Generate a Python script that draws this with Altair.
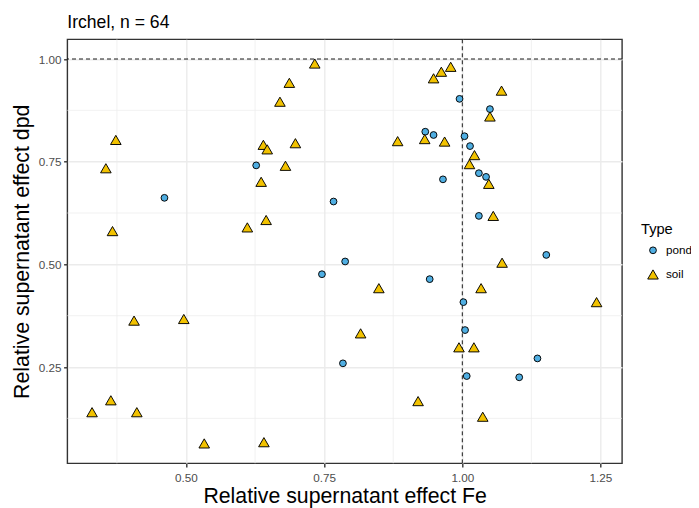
import altair as alt
import pandas as pd

# ---- data ----
pond_fe = [0.461, 0.627, 0.767, 0.933, 0.948, 0.965, 0.995, 1.004, 1.014, 1.050,
           1.030, 1.043, 1.030, 0.788, 0.746, 0.941, 1.002, 1.005, 0.784, 1.008,
           1.152, 1.136, 1.103]
pond_dpd = [0.662, 0.741, 0.653, 0.823, 0.815, 0.707, 0.903, 0.812, 0.788, 0.878,
            0.722, 0.713, 0.618, 0.507, 0.476, 0.464, 0.408, 0.340, 0.259, 0.228,
            0.523, 0.271, 0.225]
soil_fe = [0.373, 0.355, 0.640, 0.647, 0.636, 0.367, 0.611, 0.645, 0.733, 0.687,
           0.670, 0.698, 0.680, 0.883, 0.932, 0.968, 0.948, 0.962, 0.979, 1.071,
           1.050, 1.022, 1.013, 1.048, 1.056, 0.406, 0.496, 0.330, 0.364, 0.411,
           0.533, 0.641, 0.849, 0.816, 0.994, 0.920, 1.072, 1.034, 1.243, 1.021,
           1.037]
soil_dpd = [0.803, 0.734, 0.791, 0.780, 0.701, 0.581, 0.590, 0.608, 0.989, 0.942,
            0.896, 0.795, 0.740, 0.800, 0.805, 0.799, 0.953, 0.969, 0.981, 0.923,
            0.860, 0.766, 0.744, 0.696, 0.618, 0.363, 0.367, 0.140, 0.169, 0.140,
            0.064, 0.067, 0.442, 0.332, 0.298, 0.167, 0.504, 0.442, 0.408, 0.298,
            0.129]
types = ["pond", "soil"]
type_colors = ["#4FAEE2", "#F2C200"]
type_shapes = ["circle", "triangle-up"]
type_sizes = [46, 112]

x_ticks = [0.5, 0.75, 1.0, 1.25]
y_ticks = [0.25, 0.5, 0.75, 1.0]
minor_x = [0.375, 0.625, 0.875, 1.125]
minor_y = [0.125, 0.375, 0.625, 0.875]
ref_x = [1.0]
ref_y = [1.0]

df = pd.DataFrame({
    "Fe": pond_fe + soil_fe,
    "dpd": pond_dpd + soil_dpd,
    "Type": ["pond"] * len(pond_fe) + ["soil"] * len(soil_fe),
})

FONT = "Liberation Sans"
xs = alt.Scale(domain=[0.2852, 1.289], nice=False, zero=False)
ys = alt.Scale(domain=[0.0156, 1.048], nice=False, zero=False)

x_axis = alt.Axis(values=x_ticks, format=".2f", title="Relative supernatant effect Fe",
                  grid=True, gridColor="#EBEBEB", gridWidth=1.4,
                  domain=False, ticks=True, tickColor="#333333", tickWidth=1.4, tickSize=3.7,
                  labelFont=FONT, labelFontSize=11.7, labelColor="#4D4D4D", labelPadding=6,
                  titleFont=FONT, titleFontSize=21.3, titleFontWeight="normal",
                  titleColor="black", titleBaseline="alphabetic", titleY=39.5)
y_axis = alt.Axis(values=y_ticks, format=".2f", title="Relative supernatant effect dpd",
                  grid=True, gridColor="#EBEBEB", gridWidth=1.4,
                  domain=False, ticks=True, tickColor="#333333", tickWidth=1.4, tickSize=3.7,
                  labelFont=FONT, labelFontSize=11.7, labelColor="#4D4D4D", labelPadding=2.5,
                  titleFont=FONT, titleFontSize=21.3, titleFontWeight="normal",
                  titleColor="black", titleBaseline="alphabetic", titleX=-39, titleY=212)

legend = alt.Legend(title="Type", orient="none", legendX=573.7, legendY=182.5, padding=0,
                    titleFont=FONT, titleFontSize=14.67, titleFontWeight="normal",
                    titleColor="black", titlePadding=8,
                    labelFont=FONT, labelFontSize=11.7, labelColor="black",
                    symbolStrokeColor="black", symbolStrokeWidth=0.95,
                    symbolOffset=6, labelOffset=7, rowPadding=10)

minor_vx = alt.Chart(pd.DataFrame({"Fe": minor_x})).mark_rule(
    color="#EBEBEB", strokeWidth=0.7).encode(x=alt.X("Fe:Q", scale=xs, axis=x_axis))
minor_hy = alt.Chart(pd.DataFrame({"dpd": minor_y})).mark_rule(
    color="#EBEBEB", strokeWidth=0.7).encode(y=alt.Y("dpd:Q", scale=ys, axis=y_axis))
ref_v = alt.Chart(pd.DataFrame({"Fe": ref_x})).mark_rule(
    color="black", strokeWidth=0.9, strokeDash=[4, 3]).encode(x=alt.X("Fe:Q", scale=xs, axis=x_axis))
ref_h = alt.Chart(pd.DataFrame({"dpd": ref_y})).mark_rule(
    color="black", strokeWidth=0.9, strokeDash=[4, 3]).encode(y=alt.Y("dpd:Q", scale=ys, axis=y_axis))

points = alt.Chart(df).mark_point(filled=True, stroke="black", strokeWidth=0.95, opacity=1).encode(
    x=alt.X("Fe:Q", scale=xs, axis=x_axis),
    y=alt.Y("dpd:Q", scale=ys, axis=y_axis),
    color=alt.Color("Type:N", scale=alt.Scale(domain=types, range=type_colors), legend=legend),
    shape=alt.Shape("Type:N", scale=alt.Scale(domain=types, range=type_shapes), legend=legend),
    size=alt.Size("Type:N", scale=alt.Scale(domain=types, range=type_sizes), legend=legend),
)

chart = alt.layer(minor_vx, minor_hy, ref_v, ref_h, points).properties(
    width=554.7, height=424,
    autosize=alt.AutoSizeParams(type="none"),
    padding={"left": 59.3, "top": 31.3, "right": 69, "bottom": 45},
    background="white",
    title=alt.TitleParams("Irchel, n = 64", anchor="start", frame="group", font=FONT,
                          fontSize=17.6, fontWeight="normal", color="black", offset=7.5),
).configure_view(stroke="#333333", strokeWidth=1.4)

chart.save("out.html", embed_options={"renderer": "svg", "actions": False})
